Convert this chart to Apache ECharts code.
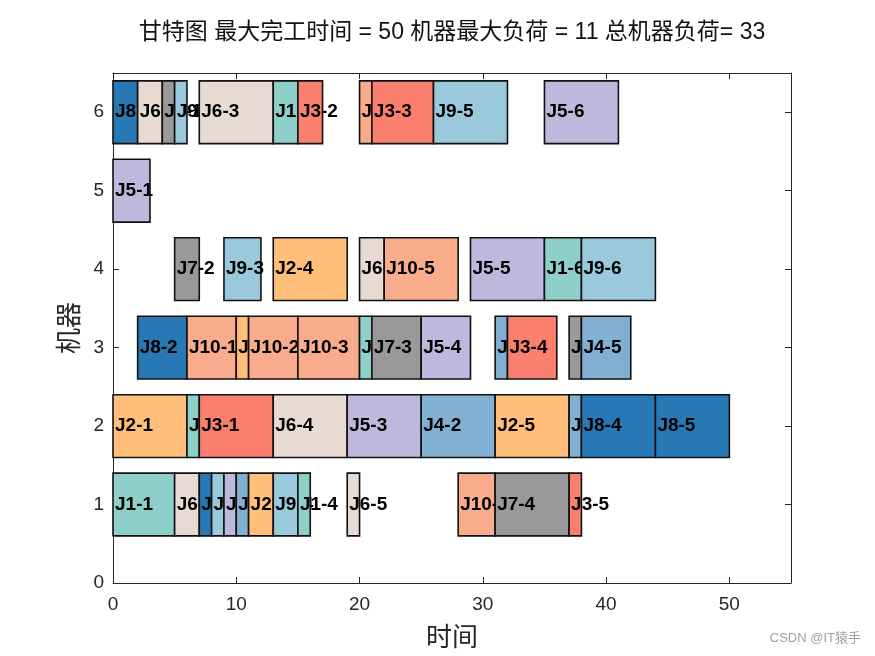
<!DOCTYPE html>
<html><head><meta charset="utf-8">
<script src="https://cdn.jsdelivr.net/npm/echarts@6/dist/echarts.min.js"></script>
<style>html,body{margin:0;padding:0;background:#fff}#c{width:875px;height:656px}</style>
</head><body><div id="c"></div>
<script>
// Job colours J1..J10
const jobColors = ['#8ECFC9','#FFBE7A','#FA7F6F','#82B0D2','#BEB8DC','#E7DAD2','#999999','#2878B5','#9AC9DB','#F8AC8C'];

// operations, in drawing order (left to right per machine)
const taskLabels = [
  'J8-1','J6-1','J7-1','J9-1','J6-3','J1-3','J3-2','J10-4','J3-3','J9-5','J5-6',
  'J5-1',
  'J7-2','J9-3','J2-4','J6-6','J10-5','J5-5','J1-6','J9-6',
  'J8-2','J10-1','J2-2','J10-2','J10-3','J1-5','J7-3','J5-4','J4-3','J3-4','J7-5','J4-5',
  'J2-1','J1-2','J3-1','J6-4','J5-3','J4-2','J2-5','J4-4','J8-4','J8-5',
  'J1-1','J6-2','J8-3','J9-2','J5-2','J4-1','J2-3','J9-4','J1-4','J6-5','J10-6','J7-4','J3-5'
];
const taskMachine = [
  6,6,6,6,6,6,6,6,6,6,6,
  5,
  4,4,4,4,4,4,4,4,
  3,3,3,3,3,3,3,3,3,3,3,3,
  2,2,2,2,2,2,2,2,2,2,
  1,1,1,1,1,1,1,1,1,1,1,1,1
];
const taskStart = [
  0,2,4,5,7,13,15,20,21,26,35,
  0,
  5,9,13,20,22,29,35,38,
  2,6,10,11,15,20,21,25,31,32,37,38,
  0,6,7,13,19,25,31,37,38,44,
  0,5,7,8,9,10,11,13,15,19,28,31,37
];
const taskEnd = [
  2,4,5,6,13,15,17,21,26,32,41,
  3,
  7,12,19,22,28,35,38,44,
  6,10,11,15,20,21,25,29,32,36,38,42,
  6,7,13,19,25,31,37,38,44,50,
  5,7,8,9,10,11,13,15,16,20,31,37,38
];

const titleText = '甘特图 最大完工时间 = 50 机器最大负荷 = 11 总机器负荷= 33';

const data = taskLabels.map((l, i) => [taskStart[i], taskEnd[i], taskMachine[i]]);

const axisColor = '#262626';
const chart = echarts.init(document.getElementById('c'), null, {renderer: 'canvas'});
chart.setOption({
  animation: false,
  backgroundColor: '#fff',
  grid: {left: 113, right: 84, top: 73, bottom: 73, show: false, containLabel: false, outerBoundsMode: 'none'},
  graphic: [
    {type: 'text', x: 452, y: 33, style: {text: titleText, fill: '#111', align: 'center', verticalAlign: 'middle',
      font: '23px "Liberation Sans", "Noto Sans CJK SC", sans-serif'}},
    {type: 'text', right: 14, top: 632, style: {text: 'CSDN @IT猿手', fill: '#a0a0a0',
      font: '13px "Liberation Sans", "Noto Sans CJK SC", sans-serif'}}
  ],
  xAxis: [
    {type: 'value', position: 'bottom', min: 0, max: 55, interval: 10,
     axisLine: {show: true, lineStyle: {color: axisColor, width: 1}},
     axisTick: {show: true, inside: true, length: 6, lineStyle: {color: axisColor}},
     splitLine: {show: false},
     axisLabel: {color: axisColor, fontSize: 19, margin: 12, fontFamily: '"Liberation Sans", Arial, sans-serif',
       formatter: v => (v % 10 === 0 ? String(v) : '')},
     name: '时间', nameLocation: 'middle', nameGap: 40,
     nameTextStyle: {color: axisColor, fontSize: 26, fontFamily: '"Noto Sans CJK SC", sans-serif'}},
    {type: 'value', position: 'top', min: 0, max: 55, interval: 10,
     axisLine: {show: true, onZero: false, lineStyle: {color: axisColor, width: 1}},
     axisTick: {show: true, inside: true, length: 6, lineStyle: {color: axisColor}},
     splitLine: {show: false}, axisLabel: {show: false}}
  ],
  yAxis: [
    {type: 'value', position: 'left', min: 0, max: 6.5, interval: 1,
     axisLine: {show: true, lineStyle: {color: axisColor, width: 1}},
     axisTick: {show: true, inside: true, length: 6, lineStyle: {color: axisColor}},
     splitLine: {show: false},
     axisLabel: {color: axisColor, fontSize: 19, margin: 9, fontFamily: '"Liberation Sans", Arial, sans-serif',
       formatter: v => (Number.isInteger(v) ? String(v) : '')},
     name: '机器', nameLocation: 'middle', nameGap: 32,
     nameTextStyle: {color: axisColor, fontSize: 26, fontFamily: '"Noto Sans CJK SC", sans-serif'}},
    {type: 'value', position: 'right', min: 0, max: 6.5, interval: 1,
     axisLine: {show: true, onZero: false, lineStyle: {color: axisColor, width: 1}},
     axisTick: {show: true, inside: true, length: 6, lineStyle: {color: axisColor}},
     splitLine: {show: false}, axisLabel: {show: false}}
  ],
  series: [{
    type: 'custom',
    xAxisIndex: 0, yAxisIndex: 0,
    data: data,
    encode: {x: [0, 1], y: 2},
    renderItem: function (params, api) {
      const i = params.dataIndex;
      const s = api.value(0), e = api.value(1), m = api.value(2);
      const p0 = api.coord([s, m]);
      const p1 = api.coord([e, m]);
      const h = api.size([0, 0.8])[1];
      const lbl = taskLabels[i];
      const job = parseInt(lbl.slice(1).split('-')[0], 10);
      return {
        type: 'group',
        children: [
          {type: 'rect', z2: i * 2,
           shape: {x: p0[0], y: p0[1] - h / 2, width: p1[0] - p0[0], height: h},
           style: {fill: jobColors[job - 1], stroke: '#111', lineWidth: 1.6}},
          {type: 'text', z2: i * 2 + 1, x: p0[0] + 2, y: p0[1],
           style: {text: lbl, fill: '#000', align: 'left', verticalAlign: 'middle',
             font: 'bold 19px "Liberation Sans", Arial, sans-serif'}}
        ]
      };
    }
  }]
});
</script>
</body></html>
